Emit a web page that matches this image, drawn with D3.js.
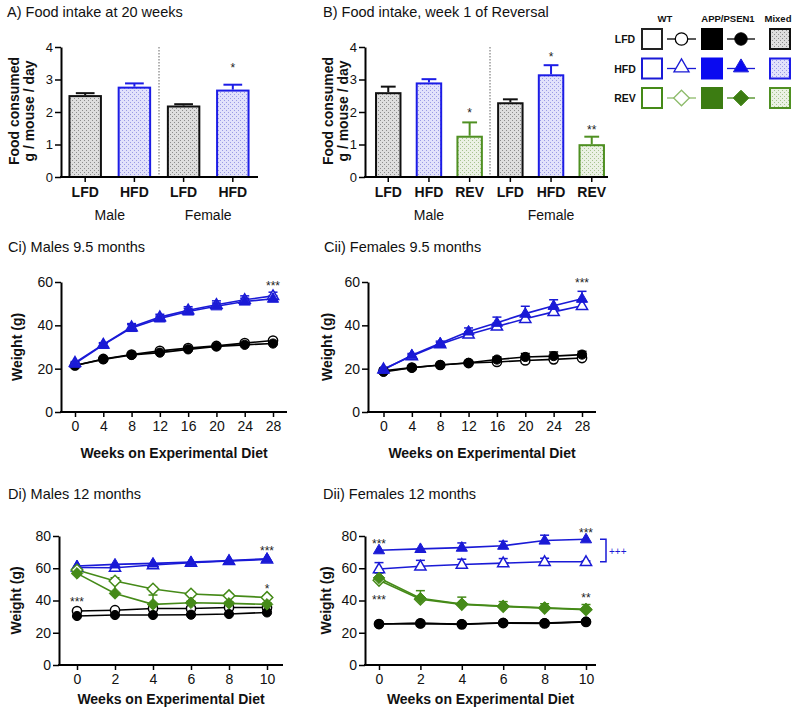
<!DOCTYPE html>
<html><head><meta charset="utf-8">
<script src="https://cdn.jsdelivr.net/npm/d3@7"></script>
<style>
body{margin:0;background:#fff}
svg{display:block;font-family:"Liberation Sans",Arial,Helvetica,sans-serif}
</style></head><body>
<svg id="c" width="800" height="715"></svg>
<script>
// ---------------- DATA ----------------
const yTicksBar = [0, 1, 2, 3, 4];

const barCatsA = ["LFD", "HFD", "LFD", "HFD"];
const barValsA = [2.52, 2.78, 2.20, 2.69];
const barErrA  = [0.06, 0.10, 0.04, 0.15];
const barStarsA = ["", "", "", "*"];
const barStarValA = [0, 0, 0, 3.45];
const groupsA = ["Male", "Female"];

const barCatsB = ["LFD", "HFD", "REV", "LFD", "HFD", "REV"];
const barValsB = [2.61, 2.91, 1.27, 2.30, 3.16, 1.01];
const barErrB  = [0.17, 0.10, 0.41, 0.09, 0.28, 0.23];
const barStarsB = ["", "", "*", "", "*", "**"];
const barStarValB = [0, 0, 2.06, 0, 3.8, 1.54];
const groupsB = ["Male", "Female"];

const legendRows = ["LFD", "HFD", "REV"];
const legendCols = ["WT", "APP/PSEN1", "Mixed"];

const weeksC = [0, 4, 8, 12, 16, 20, 24, 28];
const yTicksC = [0, 20, 40, 60];
// Ci males 9.5 months
const ciWtLfd  = [21.5, 24.5, 26.5, 28.2, 29.5, 30.5, 31.8, 33.0];
const ciAppLfd = [21.5, 24.3, 26.3, 27.4, 28.9, 30.2, 31.0, 31.6];
const ciWtHfd  = [22.8, 31.2, 39.2, 43.8, 47.0, 49.5, 51.8, 53.6];
const ciAppHfd = [22.3, 31.0, 38.8, 43.2, 46.4, 48.8, 51.0, 52.3];
const ciWtHfdErr  = [0.5, 0.8, 1.6, 1.3, 1.6, 1.8, 1.8, 1.7];
const ciAppHfdErr = [0.4, 0.7, 1.5, 1.1, 1.4, 1.5, 1.5, 1.4];
const ciStars = [{week: 28, val: 59.5, text: "***"}];
// Cii females 9.5 months
const ciiWtLfd  = [19.0, 20.5, 21.7, 22.6, 23.1, 23.8, 24.3, 24.9];
const ciiAppLfd = [18.5, 20.4, 21.7, 22.7, 24.2, 25.4, 25.8, 26.5];
const ciiWtHfd  = [19.8, 25.8, 31.3, 35.8, 39.5, 43.0, 46.2, 49.0];
const ciiAppHfd = [19.5, 26.2, 31.7, 37.2, 41.2, 45.4, 49.0, 52.3];
const ciiAppLfdErr = [0.4, 0.5, 0.6, 0.8, 1.2, 1.6, 1.9, 1.5];
const ciiWtHfdErr  = [0.5, 0.6, 0.8, 1.2, 1.6, 2.0, 2.0, 2.0];
const ciiAppHfdErr = [0.5, 0.8, 1.0, 1.6, 2.6, 3.4, 2.8, 3.4];
const ciiStars = [{week: 28, val: 61, text: "***"}];

const weeksD = [0, 2, 4, 6, 8, 10];
const yTicksD = [0, 20, 40, 60, 80];
// Di males 12 months
const diWtLfd  = [33.5, 34.0, 35.0, 35.0, 35.7, 35.7];
const diAppLfd = [30.4, 31.0, 31.0, 31.2, 31.6, 32.6];
const diWtHfd  = [60.5, 60.3, 62.0, 63.4, 64.5, 65.5];
const diAppHfd = [61.4, 62.4, 63.0, 63.8, 64.7, 65.9];
const diWtRev  = [58.9, 52.1, 47.1, 44.0, 43.0, 41.9];
const diAppRev = [56.8, 44.4, 37.6, 38.6, 38.2, 37.6];
const diWtRevErr  = [0.8, 2.0, 1.0, 1.0, 1.0, 1.0];
const diAppRevErr = [0.8, 7.0, 5.8, 1.0, 1.0, 1.0];
const diStars = [{week: 0, val: 41, text: "***"}, {week: 10, val: 72.5, text: "***"}, {week: 10, val: 49, text: "*"}];
// Dii females 12 months
const diiWtLfd  = [25.4, 25.8, 25.2, 26.0, 25.8, 26.7];
const diiAppLfd = [25.4, 25.8, 25.4, 26.2, 26.0, 26.9];
const diiWtHfd  = [59.5, 61.2, 62.3, 63.2, 64.0, 64.0];
const diiAppHfd = [71.2, 72.0, 72.8, 74.0, 77.2, 78.0];
const diiWtRev  = [52.5, 40.8, 37.6, 36.3, 35.3, 34.3];
const diiAppRev = [54.0, 41.4, 37.8, 36.5, 35.5, 34.6];
const diiWtHfdErr  = [4.0, 3.7, 3.3, 2.8, 2.2, 0.5];
const diiAppHfdErr = [0, 0, 2.9, 2.7, 3.3, 0];
const diiAppRevErr = [3.0, 4.7, 4.3, 2.8, 2.5, 2.9];
const diiStars = [{week: 0, val: 77, text: "***"}, {week: 0, val: 42, text: "***"}, {week: 10, val: 83.7, text: "***"}, {week: 10, val: 43.4, text: "**"}];

// ---------------- STYLE ----------------
const BLACK = "#000", BLUE = "#1a1ad6", GREEN = "#458a18";
const dietColor = {LFD: BLACK, HFD: BLUE, REV: GREEN};
const barStroke = {LFD: "#111", HFD: "#1c1ce6", REV: "#4f9022"};

const svg = d3.select("#c");
const defs = svg.append("defs");
function pat(id, bg, dot) {
  const p = defs.append("pattern").attr("id", id).attr("width", 4).attr("height", 4)
    .attr("patternUnits", "userSpaceOnUse");
  p.append("rect").attr("width", 4).attr("height", 4).attr("fill", bg);
  p.append("rect").attr("width", 1).attr("height", 1).attr("fill", dot);
  p.append("rect").attr("x", 2).attr("y", 2).attr("width", 1).attr("height", 1).attr("fill", dot);
}
pat("pLFD", "#dedede", "#8c8c8c");
pat("pHFD", "#e2e2fb", "#9a9ae6");
pat("pREV", "#ebf1e4", "#a6c38e");
const barFill = {LFD: "url(#pLFD)", HFD: "url(#pHFD)", REV: "url(#pREV)"};

function styleAxis(g, fs) {
  g.attr("font-family", null).attr("font-size", fs);
  g.selectAll(".domain").attr("stroke", "#000").attr("stroke-width", 2);
  g.selectAll(".tick line").attr("stroke", "#000").attr("stroke-width", 1.5);
  g.selectAll(".tick text").attr("fill", "#111");
}

function shapePath(shape, k) {
  if (shape === "circle") return d3.symbol().type(d3.symbolCircle).size(Math.PI * Math.pow(4.6 * k, 2))();
  if (shape === "triangle") return `M0,${-6.0 * k}L${5.6 * k},${3.6 * k}L${-5.6 * k},${3.6 * k}Z`;
  return `M0,${-5.8 * k}L${5.8 * k},0L0,${5.8 * k}L${-5.8 * k},0Z`;
}

// ---------------- BAR PANELS ----------------
function barPanel(o) {
  const g = svg.append("g");
  const y = d3.scaleLinear().domain([0, 4]).range([177, 47]);
  const x = d3.scaleBand().domain(d3.range(o.cats.length)).range(o.range)
    .paddingInner(o.pi).paddingOuter(0.05);
  const bw = x.bandwidth();
  g.append("text").attr("x", o.tx).attr("y", 17).attr("font-size", 14.5).attr("fill", "#111").text(o.title);

  // divider
  const half = o.cats.length / 2;
  const dvx = (x(half - 1) + bw + x(half)) / 2;
  g.append("line").attr("x1", dvx).attr("x2", dvx).attr("y1", y(4)).attr("y2", y(0))
    .attr("stroke", "#666").attr("stroke-width", 1).attr("stroke-dasharray", "1.5,1.5");

  // bars
  o.cats.forEach((c, i) => {
    const v = o.vals[i], e = o.errs[i], cx = x(i) + bw / 2, cw = bw * 0.28;
    g.append("line").attr("x1", cx).attr("x2", cx).attr("y1", y(v)).attr("y2", y(v + e))
      .attr("stroke", barStroke[c]).attr("stroke-width", 2);
    g.append("line").attr("x1", cx - cw).attr("x2", cx + cw).attr("y1", y(v + e)).attr("y2", y(v + e))
      .attr("stroke", barStroke[c]).attr("stroke-width", 2);
    g.append("rect").attr("x", x(i) + 1).attr("y", y(v) + 1).attr("width", bw - 2)
      .attr("height", y(0) - y(v) - 1).attr("fill", barFill[c])
      .attr("stroke", barStroke[c]).attr("stroke-width", 2);
    if (o.stars[i]) {
      g.append("text").attr("x", cx).attr("y", y(o.starVals[i]) + 7).attr("text-anchor", "middle")
        .attr("font-size", 12).attr("fill", "#222").text(o.stars[i]);
    }
    g.append("line").attr("x1", cx).attr("x2", cx).attr("y1", 177).attr("y2", 182)
      .attr("stroke", "#000").attr("stroke-width", 1.5);
    g.append("text").attr("x", cx).attr("y", 197).attr("text-anchor", "middle")
      .attr("font-size", 14).attr("font-weight", "bold").attr("fill", "#111").text(c);
  });

  // axes
  const ya = g.append("g").attr("transform", `translate(${o.ax},0)`)
    .call(d3.axisLeft(y).tickValues(yTicksBar).tickFormat(d3.format("d")).tickSize(6).tickSizeOuter(0).tickPadding(2));
  styleAxis(ya, 13);
  g.append("line").attr("x1", o.ax - 1).attr("x2", o.axEnd).attr("y1", 177).attr("y2", 177)
    .attr("stroke", "#000").attr("stroke-width", 2);

  // group labels
  o.groups.forEach((gr, k) => {
    const i0 = k * half, i1 = k * half + half - 1;
    const cx = (x(i0) + x(i1) + bw) / 2;
    g.append("text").attr("x", cx).attr("y", 220).attr("text-anchor", "middle")
      .attr("font-size", 14).attr("fill", "#111").text(gr);
  });

  // y title
  const yc = 111;
  g.append("text").attr("transform", `translate(${o.yt1},${yc}) rotate(-90)`).attr("text-anchor", "middle")
    .attr("font-size", 14).attr("font-weight", "bold").attr("fill", "#111").text("Food consumed");
  g.append("text").attr("transform", `translate(${o.yt2},${yc}) rotate(-90)`).attr("text-anchor", "middle")
    .attr("font-size", 14).attr("font-weight", "bold").attr("fill", "#111").text("g / mouse / day");
}

barPanel({cats: barCatsA, vals: barValsA, errs: barErrA, stars: barStarsA, starVals: barStarValA,
  groups: groupsA, range: [66, 252], pi: 0.32, ax: 61, axEnd: 258,
  title: "A) Food intake at 20 weeks", tx: 7, yt1: 19, yt2: 33.5});
barPanel({cats: barCatsB, vals: barValsB, errs: barErrB, stars: barStarsB, starVals: barStarValB,
  groups: groupsB, range: [373, 607], pi: 0.35, ax: 365, axEnd: 608,
  title: "B) Food intake, week 1 of Reversal", tx: 323, yt1: 332.5, yt2: 348});

// ---------------- LEGEND ----------------
(function legend() {
  const g = svg.append("g");
  const colSq = [641, 701, 769];
  const colHdr = [665, 728, 778];
  const lineCols = [[667, 696], [727, 755]];
  const rowTop = [28, 57.5, 87];
  const shapes = {LFD: "circle", HFD: "triangle", REV: "diamond"};
  legendCols.forEach((c, j) => {
    g.append("text").attr("x", colHdr[j]).attr("y", 21.5).attr("text-anchor", "middle")
      .attr("font-size", 9.5).attr("font-weight", "bold").attr("fill", "#111").text(c);
  });
  legendRows.forEach((r, i) => {
    const cy = rowTop[i] + 11, col = dietColor[r];
    g.append("text").attr("x", 625).attr("y", cy + 4).attr("text-anchor", "middle")
      .attr("font-size", 10.5).attr("font-weight", "bold").attr("fill", "#111").text(r);
    // WT open square
    g.append("rect").attr("x", colSq[0] + 1).attr("y", rowTop[i] + 1).attr("width", 20).attr("height", 20)
      .attr("fill", "#fff").attr("stroke", col === BLACK ? "#222" : col).attr("stroke-width", 2);
    // APP filled square
    g.append("rect").attr("x", colSq[1]).attr("y", rowTop[i]).attr("width", 22).attr("height", 22)
      .attr("fill", r === "HFD" ? "#0a0af0" : (r === "REV" ? "#3c7c12" : "#000"));
    // mixed square
    g.append("rect").attr("x", colSq[2] + 1).attr("y", rowTop[i] + 1).attr("width", 20).attr("height", 20)
      .attr("fill", barFill[r]).attr("stroke", barStroke[r]).attr("stroke-width", 2);
    // line markers
    lineCols.forEach((lc, k) => {
      const mx = (lc[0] + lc[1]) / 2;
      g.append("line").attr("x1", lc[0]).attr("x2", lc[1]).attr("y1", cy).attr("y2", cy)
        .attr("stroke", k === 0 && r === "REV" ? "#8dbb6a" : col).attr("stroke-width", 1.3);
      const sy = shapes[r] === "triangle" ? cy - 1.5 : cy;
      g.append("path").attr("d", shapePath(shapes[r], 1.35)).attr("transform", `translate(${mx},${sy})`)
        .attr("fill", k === 0 ? "#fff" : (r === "HFD" ? "#0a0af0" : (r === "REV" ? "#3c7c12" : "#000")))
        .attr("stroke", k === 0 && r === "REV" ? "#8dbb6a" : col).attr("stroke-width", k === 0 ? 1.3 : 1);
    });
  });
})();

// ---------------- LINE PANELS ----------------
function linePanel(o) {
  const g = svg.append("g");
  const y = d3.scaleLinear().domain([0, o.ymax]).range([o.yb, o.yt]);
  const x = d3.scaleLinear().domain([0, o.xmax]).range([o.x0, o.x1]);
  g.append("text").attr("x", o.tx).attr("y", o.ty).attr("font-size", 14.5).attr("fill", "#111").text(o.title);

  const line = d3.line().x((d, i) => x(o.weeks[i])).y(d => y(d));
  o.series.forEach(s => {
    g.append("path").attr("d", line(s.vals)).attr("fill", "none")
      .attr("stroke", s.color).attr("stroke-width", 1.6);
  });
  o.series.forEach(s => {
    if (!s.errs) return;
    s.errs.forEach((e, i) => {
      if (!e) return;
      const cx = x(o.weeks[i]), y0 = y(s.vals[i]), y1 = y(s.vals[i] + e);
      g.append("line").attr("x1", cx).attr("x2", cx).attr("y1", y0).attr("y2", y1)
        .attr("stroke", s.color).attr("stroke-width", 1.5);
      g.append("line").attr("x1", cx - 4.5).attr("x2", cx + 4.5).attr("y1", y1).attr("y2", y1)
        .attr("stroke", s.color).attr("stroke-width", 1.5);
    });
  });
  o.series.forEach(s => {
    s.vals.forEach((v, i) => {
      g.append("path").attr("d", shapePath(s.shape, 1))
        .attr("transform", `translate(${x(o.weeks[i])},${y(v)})`)
        .attr("fill", s.filled ? s.color : "#fff").attr("stroke", s.color)
        .attr("stroke-width", s.filled ? 1 : 1.5);
    });
  });

  // axes
  const ya = g.append("g").attr("transform", `translate(${o.ax},0)`)
    .call(d3.axisLeft(y).tickValues(o.yTicks).tickFormat(d3.format("d")).tickSize(6).tickSizeOuter(0).tickPadding(2));
  styleAxis(ya, 14);
  const xa = g.append("g").attr("transform", `translate(0,${o.yb})`)
    .call(d3.axisBottom(x).tickValues(o.weeks).tickFormat(d3.format("d")).tickSize(5).tickSizeOuter(0).tickPadding(4.5));
  styleAxis(xa, 14);
  xa.select(".domain").remove();
  g.append("line").attr("x1", o.ax - 1).attr("x2", o.axEnd).attr("y1", o.yb).attr("y2", o.yb)
    .attr("stroke", "#000").attr("stroke-width", 2);

  // stars
  o.stars.forEach(st => {
    g.append("text").attr("x", x(st.week)).attr("y", y(st.val) + 7).attr("text-anchor", "middle")
      .attr("font-size", 12).attr("fill", "#222").text(st.text);
  });

  // titles
  g.append("text").attr("x", (o.ax + o.axEnd) / 2).attr("y", o.xty).attr("text-anchor", "middle")
    .attr("font-size", 14).attr("font-weight", "bold").attr("fill", "#111").text("Weeks on Experimental Diet");
  g.append("text").attr("transform", `translate(${o.ytx},${(o.yt + o.yb) / 2}) rotate(-90)`)
    .attr("text-anchor", "middle").attr("font-size", 14).attr("font-weight", "bold").attr("fill", "#111")
    .text("Weight (g)");
  return {x, y, g};
}

function S(vals, errs, diet, filled) {
  const shape = {LFD: "circle", HFD: "triangle", REV: "diamond"}[diet];
  return {vals, errs, shape, filled, color: dietColor[diet]};
}

linePanel({title: "Ci) Males 9.5 months", tx: 8, ty: 252, ax: 61, axEnd: 287, x0: 75, x1: 273,
  yt: 282, yb: 412, ymax: 60, xmax: 28, weeks: weeksC, yTicks: yTicksC, xty: 458, ytx: 22,
  stars: ciStars,
  series: [S(ciWtLfd, null, "LFD", false), S(ciAppLfd, null, "LFD", true),
           S(ciWtHfd, ciWtHfdErr, "HFD", false), S(ciAppHfd, ciAppHfdErr, "HFD", true)]});

linePanel({title: "Cii) Females 9.5 months", tx: 324, ty: 252, ax: 368, axEnd: 596, x0: 383.5, x1: 582,
  yt: 282, yb: 412, ymax: 60, xmax: 28, weeks: weeksC, yTicks: yTicksC, xty: 458, ytx: 332,
  stars: ciiStars,
  series: [S(ciiWtLfd, null, "LFD", false), S(ciiAppLfd, ciiAppLfdErr, "LFD", true),
           S(ciiWtHfd, ciiWtHfdErr, "HFD", false), S(ciiAppHfd, ciiAppHfdErr, "HFD", true)]});

linePanel({title: "Di) Males 12 months", tx: 8, ty: 499, ax: 59, axEnd: 283, x0: 77, x1: 267,
  yt: 536, yb: 665, ymax: 80, xmax: 10, weeks: weeksD, yTicks: yTicksD, xty: 704, ytx: 21,
  stars: diStars,
  series: [S(diWtLfd, null, "LFD", false), S(diAppLfd, null, "LFD", true),
           S(diWtHfd, null, "HFD", false), S(diAppHfd, null, "HFD", true),
           S(diWtRev, diWtRevErr, "REV", false), S(diAppRev, diAppRevErr, "REV", true)]});

const dii = linePanel({title: "Dii) Females 12 months", tx: 323, ty: 499, ax: 365, axEnd: 596, x0: 379, x1: 586,
  yt: 536, yb: 665, ymax: 80, xmax: 10, weeks: weeksD, yTicks: yTicksD, xty: 704, ytx: 331,
  stars: diiStars,
  series: [S(diiWtLfd, null, "LFD", false), S(diiAppLfd, null, "LFD", true),
           S(diiWtHfd, diiWtHfdErr, "HFD", false), S(diiAppHfd, diiAppHfdErr, "HFD", true),
           S(diiWtRev, null, "REV", false), S(diiAppRev, diiAppRevErr, "REV", true)]});

// bracket comparing HFD genotypes in Dii
(function () {
  const yTop = dii.y(diiAppHfd[5]), yBot = dii.y(diiWtHfd[5]);
  const bx = dii.x(10) + 20;
  dii.g.append("path").attr("d", `M${bx - 6},${yTop}H${bx}V${yBot}H${bx - 6}`)
    .attr("fill", "none").attr("stroke", BLUE).attr("stroke-width", 1.5);
  dii.g.append("text").attr("x", bx + 3).attr("y", (yTop + yBot) / 2 + 4).attr("font-size", 10)
    .attr("fill", BLUE).text("+++");
})();
</script>
</body></html>
